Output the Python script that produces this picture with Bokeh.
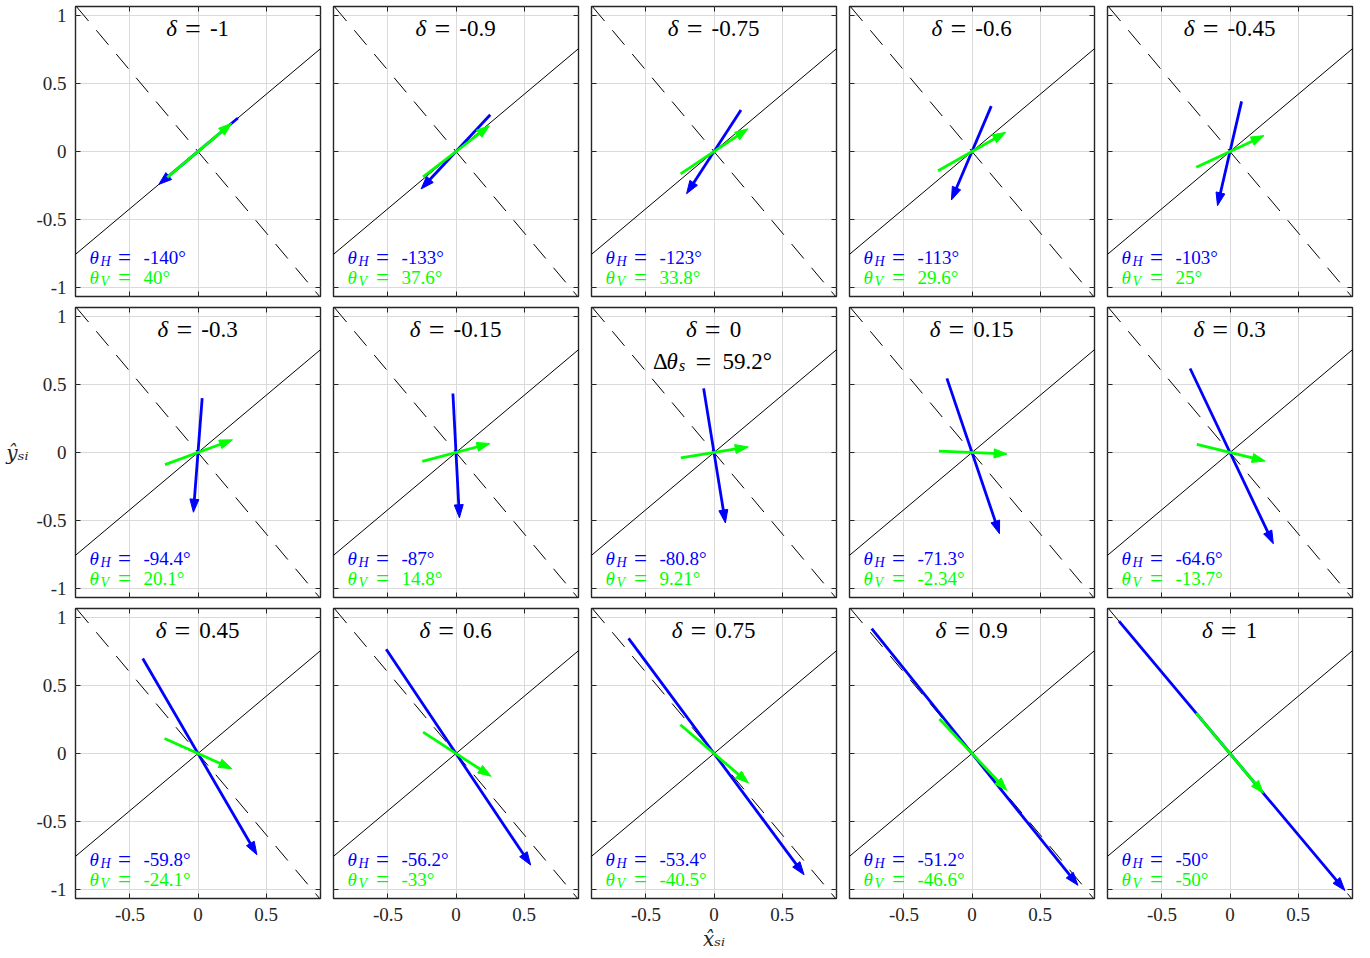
import math

from bokeh.core.properties import value
from bokeh.embed import file_html
from bokeh.layouts import column, row
from bokeh.models import FixedTicker, LinearAxis, Range1d
from bokeh.plotting import figure
from bokeh.resources import INLINE

# ---- data -------------------------------------------------------------
delta = [-1, -0.9, -0.75, -0.6, -0.45, -0.3, -0.15, 0, 0.15, 0.3, 0.45, 0.6, 0.75, 0.9, 1]
theta_H = [-140, -133, -123, -113, -103, -94.4, -87, -80.8, -71.3, -64.6,
           -59.8, -56.2, -53.4, -51.2, -50]
theta_V = [40, 37.6, 33.8, 29.6, 25, 20.1, 14.8, 9.21, -2.34, -13.7,
           -24.1, -33, -40.5, -46.6, -50]
# arrow extent behind the origin (tail) and ahead of it (tip)
h_tail = [0.383, 0.369, 0.364, 0.362, 0.378, 0.40, 0.434, 0.477, 0.575, 0.683,
          0.807, 0.922, 1.053, 1.176, 1.269]
h_tip = [0.376, 0.376, 0.370, 0.387, 0.408, 0.44, 0.48, 0.524, 0.63, 0.742,
         0.86, 0.986, 1.11, 1.242, 1.313]
v_tail = [0.295, 0.305, 0.295, 0.286, 0.273, 0.258, 0.256, 0.247, 0.243, 0.251,
          0.269, 0.288, 0.325, 0.348, 0.388]
v_tip = [0.322, 0.31, 0.30, 0.285, 0.276, 0.27, 0.258, 0.255, 0.258, 0.266,
         0.273, 0.307, 0.333, 0.373, 0.381]
solid_angle = 40     # degrees
dashed_angle = -50   # degrees
delta_theta_s = 59.2

x_ticks = [-0.5, 0, 0.5]
x_tick_labels = ["-0.5", "0", "0.5"]
y_ticks = [-1, -0.5, 0, 0.5, 1]
y_tick_labels = ["-1", "-0.5", "0", "0.5", "1"]

# ---- style ------------------------------------------------------------
XLIM = (-0.9, 0.9)
YLIM = (-1.065, 1.065)
FW, FH = 245, 290
PX = FW / (XLIM[1] - XLIM[0])  # screen pixels per data unit
SERIF = "Liberation Serif"
AX = "#262626"
BLUE = "#0000ff"
GREEN = "#00ff00"
HEAD_LEN = 13 / PX
HEAD_HW = 4.5 / PX
CHAR_W = {"-": 7.6, ".": 5.8}
LIFT = 7  # baseline correction, px


def fmt(v):
    return f"{v:.3g}"


def style_axis(ax, ticks, labels, show):
    ax.ticker = FixedTicker(ticks=ticks)
    ax.axis_line_color = None
    ax.major_tick_in = 5
    ax.major_tick_out = 0
    ax.major_tick_line_color = AX
    ax.minor_tick_line_color = None
    if show:
        ax.major_label_overrides = {t: s for t, s in zip(ticks, labels)}
        ax.major_label_text_font = SERIF
        ax.major_label_text_font_size = "19px"
        ax.major_label_text_color = AX
        ax.major_label_standoff = 9
    else:
        ax.major_label_overrides = {t: "" for t in ticks}
        ax.major_label_text_font_size = "0px"
        ax.major_label_standoff = 0


def style_axis_label(ax, text, standoff):
    ax.axis_label = text
    ax.axis_label_text_font = "DejaVu Serif"
    ax.axis_label_text_font_style = "italic"
    ax.axis_label_text_font_size = "20px"
    ax.axis_label_text_color = AX
    ax.axis_label_standoff = standoff


def txt(p, x, y, s, size, color="black", italic=False, align="left"):
    p.text(x=[x], y=[y + LIFT / PX], text=[s], text_font=value(SERIF),
           text_font_size=size, text_font_style="italic" if italic else "normal",
           text_color=color, text_align=align, text_baseline="alphabetic")


def arrow(p, ang, tail, tip, color):
    ux, uy = math.cos(math.radians(ang)), math.sin(math.radians(ang))
    x1, y1 = tip * ux, tip * uy
    bx, by = x1 - HEAD_LEN * ux, y1 - HEAD_LEN * uy
    sx, sy = x1 - 0.6 * HEAD_LEN * ux, y1 - 0.6 * HEAD_LEN * uy
    p.line([-tail * ux, sx], [-tail * uy, sy], line_color=color, line_width=2.8)
    p.patch([x1, bx - HEAD_HW * uy, bx + HEAD_HW * uy],
            [y1, by + HEAD_HW * ux, by - HEAD_HW * ux],
            fill_color=color, line_color=color, line_width=1)


def theta_label(p, y, sub, val, color):
    x0 = XLIM[0] + 14 / PX
    txt(p, x0, y, "θ", "19px", color, italic=True)
    txt(p, x0 + 11 / PX, y - 4 / PX, sub, "14px", color, italic=True)
    txt(p, x0 + 35 / PX, y, "=", "23px", color, align="center")
    txt(p, x0 + 54 / PX, y, val + "°", "19px", color)


def make_panel(i, r, c):
    p = figure(frame_width=FW, frame_height=FH,
               x_range=Range1d(*XLIM), y_range=Range1d(*YLIM),
               output_backend="svg", toolbar_location=None,
               min_border_left=75 if c == 0 else 7, min_border_right=6,
               min_border_top=6, min_border_bottom=58 if r == 2 else 5)
    p.background_fill_color = "white"
    p.border_fill_color = "white"
    p.outline_line_color = AX
    p.outline_line_width = 1.4

    bottom = p.below[0]
    left = p.left[0]
    style_axis(bottom, x_ticks, x_tick_labels, r == 2)
    style_axis(left, y_ticks, y_tick_labels, c == 0)
    top = LinearAxis()
    right = LinearAxis()
    style_axis(top, x_ticks, x_tick_labels, False)
    style_axis(right, y_ticks, y_tick_labels, False)
    p.add_layout(top, "above")
    p.add_layout(right, "right")

    if r == 2 and c == 2:
        style_axis_label(bottom, "x̂ₛᵢ", 3)
    if r == 1 and c == 0:
        style_axis_label(left, "ŷₛᵢ", 5)
        left.axis_label_orientation = "horizontal"

    p.xgrid.grid_line_color = "#dadada"
    p.ygrid.grid_line_color = "#dadada"

    # reference directions
    ca, sa = math.cos(math.radians(solid_angle)), math.sin(math.radians(solid_angle))
    p.line([-2 * ca, 2 * ca], [-2 * sa, 2 * sa], line_color="black", line_width=1)
    cd, sd = math.cos(math.radians(dashed_angle)), math.sin(math.radians(dashed_angle))
    t0 = YLIM[1] / sd  # start the dashes at the top edge of the frame
    p.line([t0 * cd, -t0 * cd], [t0 * sd, -t0 * sd], line_color="black",
           line_width=1, line_dash="19 12")

    arrow(p, theta_H[i], h_tail[i], h_tip[i], BLUE)
    arrow(p, theta_V[i], v_tail[i], v_tip[i], GREEN)

    # title: delta = value, centred on the panel
    vs = fmt(delta[i])
    vw = sum(CHAR_W.get(ch, 11.5) for ch in vs)
    eq = -vw / 2 + 4.5
    yb = YLIM[1] - 29 / PX
    txt(p, (eq - 16) / PX, yb, "δ", "23px", italic=True, align="right")
    txt(p, eq / PX, yb, "=", "28px", align="center")
    txt(p, (eq + 17) / PX, yb, vs, "23px")

    if delta[i] == 0:
        y2 = YLIM[1] - 61 / PX
        txt(p, -61 / PX, y2, "Δ", "23px")
        txt(p, -47.5 / PX, y2, "θ", "23px", italic=True)
        txt(p, -35 / PX, y2 - 4 / PX, "s", "16px", italic=True)
        txt(p, -10.5 / PX, y2, "=", "28px", align="center")
        txt(p, 8.5 / PX, y2, fmt(delta_theta_s) + "°", "23px")

    theta_label(p, YLIM[0] + 31.5 / PX, "H", fmt(theta_H[i]), BLUE)
    theta_label(p, YLIM[0] + 11.5 / PX, "V", fmt(theta_V[i]), GREEN)
    return p


rows = []
for r in range(3):
    rows.append(row(*[make_panel(r * 5 + c, r, c) for c in range(5)]))
layout = column(*rows)

open("out.html", "w").write(file_html(layout, INLINE))
